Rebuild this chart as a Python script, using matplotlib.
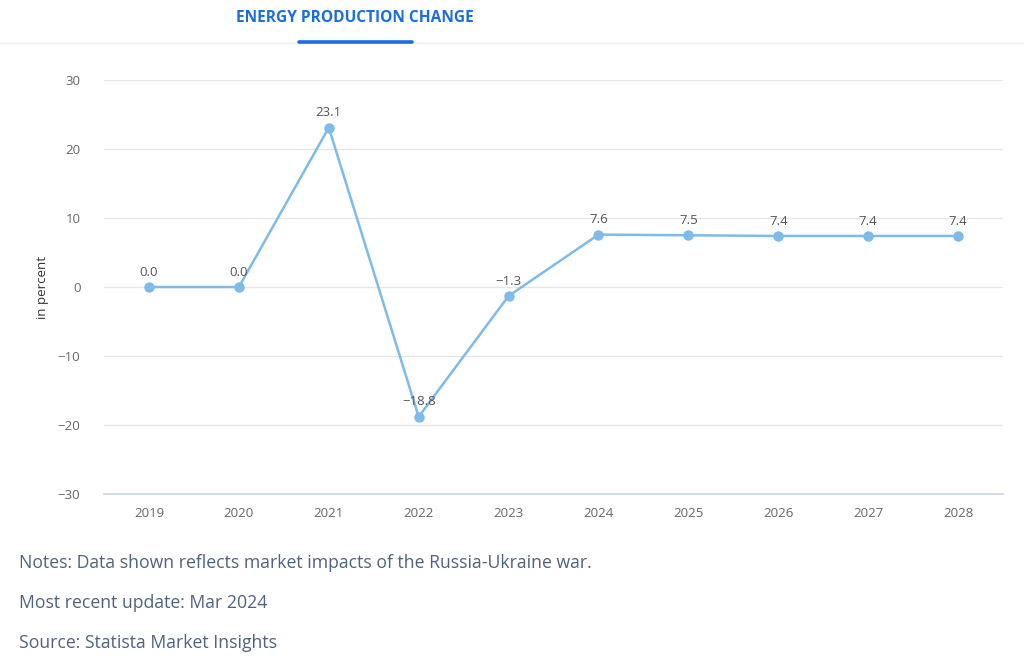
import matplotlib
matplotlib.use("Agg")
import matplotlib.pyplot as plt
from matplotlib.lines import Line2D

plt.rcParams['font.family'] = ['Open Sans', 'DejaVu Sans']

years = ['2019', '2020', '2021', '2022', '2023', '2024', '2025', '2026', '2027', '2028']
change = [0.0, 0.0, 23.1, -18.8, -1.3, 7.6, 7.5, 7.4, 7.4, 7.4]
yticks = [-30, -20, -10, 0, 10, 20, 30]
notes = ['Notes: Data shown reflects market impacts of the Russia-Ukraine war.',
         'Most recent update: Mar 2024',
         'Source: Statista Market Insights']

line_col = '#7dbbea'
tick_col = '#666666'

fig = plt.figure(figsize=(10.24, 6.58), dpi=100)
ax = fig.add_axes([0.1016, 0.2492, 0.8779, 0.6292])

x = range(len(years))
ax.plot(x, change, color=line_col, lw=1.8, marker='o', ms=6.5, zorder=3)
for i, v in enumerate(change):
    ax.annotate(f'{v:.1f}'.replace('-', '\u2212'), (i, v), xytext=(0, 6),
                textcoords='offset points', ha='center', va='bottom',
                fontsize=9.5, color='#555555')

ax.set_xlim(-0.5, len(years) - 0.5)
ax.set_ylim(-30, 30)
ax.set_yticks(yticks)
ax.set_yticklabels([str(t).replace('-', '\u2212') for t in yticks])
ax.set_xticks(list(x))
ax.set_xticklabels(years)
ax.tick_params(axis='both', length=0, labelsize=9.5, colors=tick_col)
ax.tick_params(axis='y', pad=17)
ax.tick_params(axis='x', pad=9)
ax.grid(axis='y', color='#e6e6e6', lw=0.9)
ax.set_axisbelow(True)
for s in ['top', 'right', 'left']:
    ax.spines[s].set_visible(False)
ax.spines['bottom'].set_color('#c9d6ea')
ax.spines['bottom'].set_linewidth(1.2)
ax.set_ylabel('in percent', fontsize=9.5, color='#333333', labelpad=6)

# header tab
fig.text(0.347, 0.973, 'ENERGY PRODUCTION CHANGE', ha='center', va='center',
         fontsize=11.2, fontweight='bold', color='#1a6ee0')
fig.add_artist(Line2D([0, 1], [0.934, 0.934], color='#eeeeee', lw=1, transform=fig.transFigure))
fig.add_artist(Line2D([0.292, 0.402], [0.936, 0.936], color='#1a6ee0', lw=2.6,
                      solid_capstyle='round', transform=fig.transFigure))

for k, t in enumerate(notes):
    fig.text(0.019, 1 - (563 + 40 * k) / 658, t, ha='left', va='center',
             fontsize=12.7, color='#4e6380')

fig.savefig('out.png', dpi=100)
